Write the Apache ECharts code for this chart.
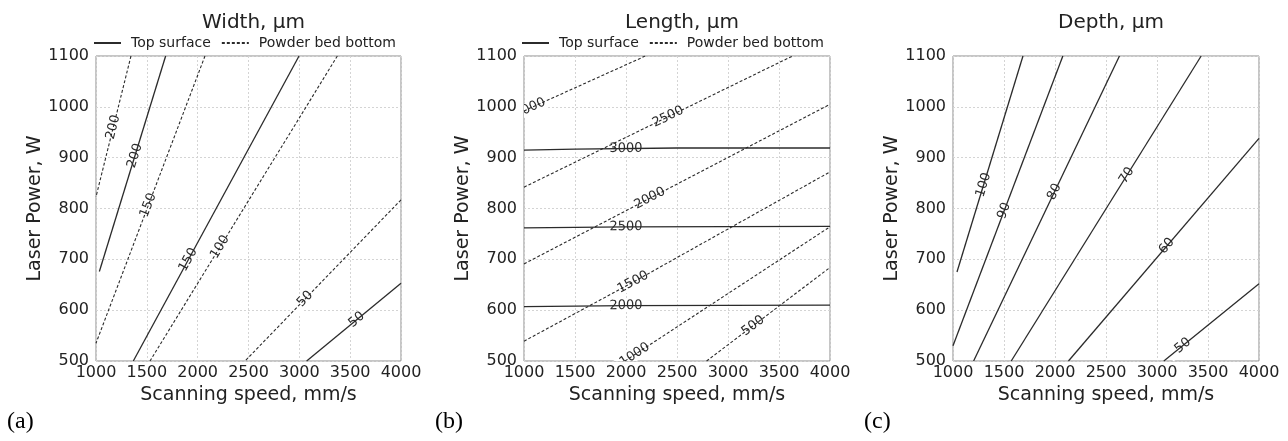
<!DOCTYPE html>
<html>
<head>
<meta charset="utf-8">
<script src="https://cdn.jsdelivr.net/npm/echarts@6/dist/echarts.min.js"></script>
<style>
  html, body { margin: 0; padding: 0; background: #fff; }
  #chart { width: 1288px; height: 441px; }
</style>
</head>
<body>
<div id="chart"></div>
<script>
// Axis ranges: [min, max, step]
const speedAxis = [1000, 4000, 500];
const powerAxis = [500, 1100, 100];

const panelTitles = ['Width, µm', 'Length, µm', 'Depth, µm'];
const panelTags = ['(a)', '(b)', '(c)'];
const legendNames = ['Top surface', 'Powder bed bottom'];

// Width — top surface contours (solid)
const widthTopLevels = ['200', '150', '50'];
const widthTopPaths = [
  [[1685, 1100], [1033, 676]],
  [[2997, 1100], [1367, 500]],
  [[4000, 653], [3072, 500]]
];
const widthTopLabelSpeed = [1383, 1908, 3564];

// Width — powder bed bottom contours (dashed)
const widthBedLevels = ['200', '150', '100', '50'];
const widthBedPaths = [
  [[1344, 1100], [1000, 823]],
  [[2072, 1100], [1000, 535]],
  [[3374, 1100], [1531, 500]],
  [[4000, 817], [2466, 500]]
];
const widthBedLabelSpeed = [1170, 1515, 2220, 3056];

// Length — top surface contours (solid)
const lengthTopLevels = ['3000', '2500', '2000'];
const lengthTopPaths = [
  [[1000, 915], [1500, 917], [2500, 919], [4000, 919]],
  [[1000, 762], [2000, 764], [4000, 765]],
  [[1000, 607], [2000, 609], [4000, 610]]
];
const lengthTopLabelSpeed = [2000, 2000, 2000];

// Length — powder bed bottom contours (dashed)
const lengthBedLevels = ['3000', '2500', '2000', '1500', '1000', '500'];
const lengthBedPaths = [
  [[1000, 992], [2190, 1100]],
  [[1000, 842], [3633, 1100]],
  [[1000, 691], [4000, 1005]],
  [[1000, 539], [2069, 655], [4000, 872]],
  [[1990, 500], [4000, 764]],
  [[2790, 500], [4000, 684]]
];
const lengthBedLabelSpeed = [1058, 2413, 2233, 2069, 2086, 3246];

// Depth — contours (solid)
const depthLevels = ['100', '90', '80', '70', '60', '50'];
const depthPaths = [
  [[1686, 1100], [1039, 675]],
  [[2077, 1100], [1000, 530]],
  [[2632, 1100], [1202, 500]],
  [[3433, 1100], [1571, 500]],
  [[4000, 938], [2132, 500]],
  [[4000, 652], [3067, 500]]
];
const depthLabelSpeed = [1300, 1502, 1995, 2704, 3096, 3253];

const FONT = 'DejaVu Sans';
const INK = '#222';
const LINE = '#2b2b2b';
const DASH = [3, 2];

const grids = [
  { left: 96, top: 56, width: 305, height: 305 },
  { left: 524, top: 56, width: 306, height: 305 },
  { left: 953, top: 56, width: 306, height: 305 }
];

// Place a label on a contour at the given speed: the point on the path plus
// the segment it lies on (used to orient the text along the line).
function labelItems(paths, speeds) {
  return speeds.map(function (s, k) {
    const p = paths[k];
    for (let i = 0; i < p.length - 1; i++) {
      const x0 = p[i][0], y0 = p[i][1], x1 = p[i + 1][0], y1 = p[i + 1][1];
      if ((s - x0) * (s - x1) <= 0) {
        const t = (s - x0) / (x1 - x0);
        return [s, y0 + t * (y1 - y0), x0, y0, x1, y1];
      }
    }
    return [s, p[0][1], p[0][0], p[0][1], p[1][0], p[1][1]];
  });
}

function contourSeries(paths, name, dashed, g) {
  return paths.map(function (pts) {
    return {
      type: 'line', name: name, xAxisIndex: g, yAxisIndex: g,
      data: pts, symbol: 'none', silent: true, animation: false,
      itemStyle: { color: LINE },
      lineStyle: { color: LINE, width: dashed ? 1.1 : 1.3, type: dashed ? DASH : 'solid' }
    };
  });
}

// Contour labels: text turned along the line, with a white box that opens
// a gap in the line; clipped to the plot area.
function labelSeries(texts, items, g) {
  return {
    type: 'custom', xAxisIndex: g, yAxisIndex: g, clip: true, silent: true,
    animation: false, data: items, encode: { x: 0, y: 1 },
    renderItem: function (params, api) {
      const c = api.coord([api.value(0), api.value(1)]);
      const a = api.coord([api.value(2), api.value(3)]);
      const b = api.coord([api.value(4), api.value(5)]);
      let ang = Math.atan2(-(b[1] - a[1]), b[0] - a[0]);
      if (ang > Math.PI / 2) ang -= Math.PI;
      if (ang < -Math.PI / 2) ang += Math.PI;
      return {
        type: 'text', x: c[0], y: c[1], rotation: ang, z2: 100,
        style: {
          text: texts[params.dataIndex], fill: '#2b2b2b',
          font: '13px "' + FONT + '"', align: 'center', verticalAlign: 'middle',
          backgroundColor: '#fff', padding: [0, 9]
        }
      };
    }
  };
}

const series = [].concat(
  contourSeries(widthTopPaths, legendNames[0], false, 0),
  contourSeries(widthBedPaths, legendNames[1], true, 0),
  contourSeries(lengthTopPaths, legendNames[0], false, 1),
  contourSeries(lengthBedPaths, legendNames[1], true, 1),
  contourSeries(depthPaths, 'Depth', false, 2),
  [
    labelSeries(widthTopLevels, labelItems(widthTopPaths, widthTopLabelSpeed), 0),
    labelSeries(widthBedLevels, labelItems(widthBedPaths, widthBedLabelSpeed), 0),
    labelSeries(lengthTopLevels, labelItems(lengthTopPaths, lengthTopLabelSpeed), 1),
    labelSeries(lengthBedLevels, labelItems(lengthBedPaths, lengthBedLabelSpeed), 1),
    labelSeries(depthLevels, labelItems(depthPaths, depthLabelSpeed), 2)
  ]
);

const plainNumber = function (v) { return String(v); };

const chart = echarts.init(document.getElementById('chart'), null, { renderer: 'canvas' });

chart.setOption({
  animation: false,
  backgroundColor: '#fff',
  title: grids.map(function (g, i) {
    return {
      text: panelTitles[i], left: g.left + g.width / 2, top: 8, textAlign: 'center',
      textStyle: { fontFamily: FONT, fontSize: 20, fontWeight: 'normal', color: INK }
    };
  }),
  legend: [0, 1].map(function (i) {
    return {
      data: legendNames, left: grids[i].left - 3, top: 36, padding: 0,
      itemWidth: 27, itemHeight: 14, itemGap: 10, selectedMode: false,
      itemStyle: { opacity: 0, borderWidth: 0 },
      textStyle: { fontFamily: FONT, fontSize: 14, color: INK, padding: [0, 0, 0, 5] }
    };
  }),
  grid: grids.map(function (g) {
    return Object.assign({ show: true, borderColor: '#8c8c8c', borderWidth: 1, containLabel: false }, g);
  }),
  xAxis: grids.map(function (g, i) {
    return {
      type: 'value', gridIndex: i, min: speedAxis[0], max: speedAxis[1], interval: speedAxis[2],
      name: 'Scanning speed, mm/s', nameLocation: 'middle', nameGap: 24,
      nameTextStyle: { fontFamily: FONT, fontSize: 19, color: INK },
      axisLine: { show: false }, axisTick: { show: false },
      axisLabel: { fontFamily: FONT, fontSize: 16, color: INK, margin: 4, formatter: plainNumber },
      splitLine: { show: true, lineStyle: { color: '#d4d4d4', width: 1, type: [2, 2] } }
    };
  }),
  yAxis: grids.map(function (g, i) {
    return {
      type: 'value', gridIndex: i, min: powerAxis[0], max: powerAxis[1], interval: powerAxis[2],
      name: 'Laser Power, W', nameLocation: 'middle', nameGap: 44,
      nameTextStyle: { fontFamily: FONT, fontSize: 19, color: INK },
      axisLine: { show: false }, axisTick: { show: false },
      axisLabel: { fontFamily: FONT, fontSize: 16, color: INK, margin: 7, formatter: plainNumber },
      splitLine: { show: true, lineStyle: { color: '#d4d4d4', width: 1, type: [2, 2] } }
    };
  }),
  graphic: grids.map(function (g, i) {
    return {
      type: 'text', left: g.left - 89, top: 410,
      style: { text: panelTags[i], font: '24px "Liberation Serif"', fill: '#000' }
    };
  }),
  series: series
});
</script>
</body>
</html>
